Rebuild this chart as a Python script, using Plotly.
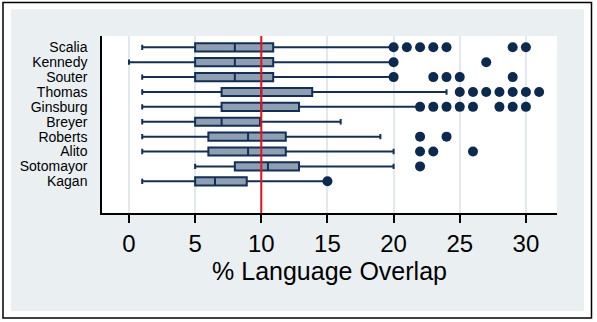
import plotly.graph_objects as go

# ---- data ----
justices = ["Scalia", "Kennedy", "Souter", "Thomas", "Ginsburg",
            "Breyer", "Roberts", "Alito", "Sotomayor", "Kagan"]
lower_whisker = [1, 0, 1, 1, 1, 1, 1, 1, 5, 1]
q1_vals = [5, 5, 5, 7, 7, 5, 6, 6, 8, 5]
median_vals = [8, 8, 8, 10, 10, 7, 9, 9, 10.5, 6.5]
q3_vals = [10.9, 10.9, 10.9, 13.85, 12.85, 9.9, 11.85, 11.85, 12.85, 8.9]
upper_whisker = [20, 20, 20, 24, 22, 16, 19, 20, 20, 15]

outlier_names = (["Scalia"] * 7 + ["Kennedy"] * 2 + ["Souter"] * 5 +
                 ["Thomas"] * 7 + ["Ginsburg"] * 8 + ["Roberts"] * 2 +
                 ["Alito"] * 3 + ["Sotomayor"] + ["Kagan"])
outlier_values = ([20, 21, 22, 23, 24, 29, 30] + [20, 27] + [20, 23, 24, 25, 29] +
                  [25, 26, 27, 28, 29, 30, 31] + [22, 23, 24, 25, 26, 28, 29, 30] +
                  [22, 24] + [22, 23, 26] + [22] + [15])

reference_line = 10
x_ticks = [0, 5, 10, 15, 20, 25, 30]

# ---- layout geometry (pixels) ----
W, H = 597, 322
L, R, T, B = 102, 557, 36, 213
pw, ph = R - L, B - T


def px(x):
    return (x - L) / pw


def py(y):
    return (B - y) / ph


NAVY = "#112F57"
FILL = "#8D9FB1"
BG = "#EAF0F2"
FONT = "Arial, Liberation Sans, sans-serif"

fig = go.Figure()

fig.add_trace(go.Box(
    y=justices,
    q1=q1_vals, median=median_vals, q3=q3_vals,
    lowerfence=lower_whisker, upperfence=upper_whisker,
    orientation="h",
    fillcolor=FILL,
    line=dict(color=NAVY, width=2),
    width=0.55,
    whiskerwidth=0.65,
    boxpoints=False,
    showlegend=False,
))

fig.add_trace(go.Scatter(
    x=outlier_values, y=outlier_names, mode="markers",
    marker=dict(color="#0B2A52", size=10, line=dict(width=0)),
    showlegend=False,
))

shapes = [
    # red reference line
    dict(type="line", xref="x", yref="paper", x0=reference_line, x1=reference_line,
         y0=0, y1=1, line=dict(color="#E3141E", width=2), layer="above"),
    # outer white frame strips
    dict(type="rect", xref="paper", yref="paper", x0=px(0), x1=px(11), y0=py(H), y1=py(0),
         fillcolor="white", line=dict(width=0), layer="above"),
    dict(type="rect", xref="paper", yref="paper", x0=px(584), x1=px(W), y0=py(H), y1=py(0),
         fillcolor="white", line=dict(width=0), layer="above"),
    dict(type="rect", xref="paper", yref="paper", x0=px(0), x1=px(W), y0=py(9.3), y1=py(0),
         fillcolor="white", line=dict(width=0), layer="above"),
    dict(type="rect", xref="paper", yref="paper", x0=px(0), x1=px(W), y0=py(H), y1=py(311),
         fillcolor="white", line=dict(width=0), layer="above"),
    # black border
    dict(type="rect", xref="paper", yref="paper", x0=px(3), x1=px(591.5), y0=py(318), y1=py(2.5),
         fillcolor="rgba(0,0,0,0)", line=dict(color="black", width=1.5), layer="above"),
]

fig.update_layout(
    width=W, height=H,
    margin=dict(l=L, r=W - R, t=T, b=H - B, pad=0),
    paper_bgcolor=BG,
    plot_bgcolor="white",
    font=dict(family=FONT, color="black"),
    shapes=shapes,
    xaxis=dict(
        range=[-2.04, 32.35],
        tickvals=x_ticks,
        ticks="outside", ticklen=8, tickwidth=1.5, tickcolor="black",
        tickfont=dict(size=24, family=FONT, color="black"),
        showline=True, linecolor="black", linewidth=1.5,
        showgrid=True, gridcolor="#E1E9EE", gridwidth=1.5,
        zeroline=False,
        title=dict(text="% Language Overlap", font=dict(size=25, family=FONT, color="black"),
                   standoff=6),
    ),
    yaxis=dict(
        type="category",
        categoryorder="array",
        categoryarray=list(reversed(justices)),
        tickmode="array",
        tickvals=justices,
        ticktext=justices,
        range=[-2.13, 9.76],
        showline=True, linecolor="black", linewidth=1.5,
        showgrid=False, zeroline=False,
        ticks="", ticklabelstandoff=10,
        tickfont=dict(size=14, family=FONT, color="black"),
    ),
)

fig.write_html("out.html")
